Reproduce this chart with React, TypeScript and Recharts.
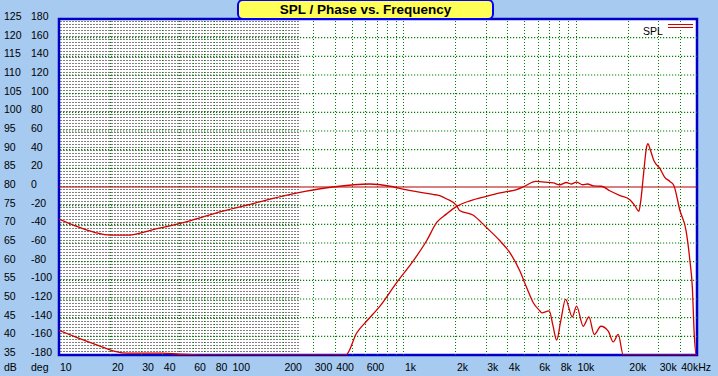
import React from 'react'
import {
  LineChart,
  Line,
  XAxis,
  YAxis,
  CartesianGrid,
  ReferenceLine,
  ReferenceArea
} from 'recharts'

// woofer SPL (dB)
const wooferFreq = [
  10, 12.4, 16.2, 19.8, 24.7, 36, 56, 88, 137, 213, 267, 387, 635, 830, 1040, 1470, 1610, 1770, 2020,
  2100, 2510, 3000, 3600, 4100, 4700, 5150, 5620, 6140, 6290, 6950, 7300, 7680, 8100, 8650, 9460,
  10020, 10950, 11810, 12680, 13870, 15290, 16340, 17470, 18680, 50000
]
const wooferDb = [
  71.4, 69.6, 67.8, 67.1, 67.1, 68.7, 70.8, 73.5, 75.7, 77.9, 78.8, 80.0, 80.8, 80.2, 79.2, 78.0, 77.7, 76.8, 75.0,
  73.7, 72.5, 69.2, 65.6, 62.5, 57.5, 53.0, 49.0, 46.8, 46.3, 46.8, 43.0, 39.0, 44.0, 49.9, 45.2,
  48.1, 42.7, 45.2, 40.5, 42.7, 41.4, 38.5, 40.5, 35.0, 35.0
]

// tweeter SPL (dB)
const tweeterFreq = [
  10, 13.2, 17.3, 21.1, 25, 40, 50, 70, 460, 532, 608, 726, 907, 1132, 1353, 1549, 1767, 2022, 2415,
  3000, 3600, 4000, 4500, 5000, 5800, 6600, 7350, 8000, 8760, 9300, 10000, 10900, 11600, 12500, 14000,
  15600, 17900, 20400, 21800, 23000, 23600, 24500, 25500, 26000, 26700, 28100, 30500, 32500, 34800,
  36700, 39800, 43200, 45500, 47000, 48200, 49500, 50000
]
const tweeterDb = [
  41.6, 39.4, 37.4, 36.0, 35.5, 35.5, 35.2, 35.0, 35.0, 40.9, 44.1, 48.1, 54.4, 60.2, 65.6, 70.5, 72.8, 74.8, 76.3,
  77.5, 78.4, 78.8, 79.3, 80.2, 81.5, 81.3, 81.1, 80.6, 81.2, 80.8, 81.3, 80.6, 80.8, 80.3, 80.2,
  79.0, 77.7, 76.6, 75.0, 73.5, 76.3, 83.5, 90.7, 91.6, 90.2, 87.1, 84.9, 82.6, 81.5,
  80.4, 73.7, 68.3, 60.2, 53.0, 40.5, 35.0, 35.0
]

// phase (deg) - flat
const phaseFreq = [10, 50000]
const phaseDeg = [0, 0]

const dbTicks = [35, 40, 45, 50, 55, 60, 65, 70, 75, 80, 85, 90, 95, 100, 105, 110, 115, 120, 125]
const degTicks = [-180, -160, -140, -120, -100, -80, -60, -40, -20, 0, 20, 40, 60, 80, 100, 120, 140, 160, 180]

const freqTicks = [10, 20, 30, 40, 60, 80, 100, 200, 300, 400, 600, 1000, 2000, 3000, 4000, 6000, 8000, 10000, 20000, 30000, 40000]
const freqLabels = ['10', '20', '30', '40', '60', '80', '100', '200', '300', '400', '600', '1k', '2k', '3k', '4k', '6k', '8k', '10k', '20k', '30k', '40kHz']

const gridFreqs = [
  20, 30, 40, 50, 60, 70, 80, 90,
  100, 200, 300, 400, 500, 600, 700, 800, 900,
  1000, 2000, 3000, 4000, 5000, 6000, 7000, 8000, 9000,
  10000, 20000, 30000, 40000
]
const gridDb = [40, 45, 50, 55, 60, 65, 70, 75, 85, 90, 95, 100, 105, 110, 115, 120]

const wooferData = wooferFreq.map((f, i) => ({ f, db: wooferDb[i] }))
const tweeterData = tweeterFreq.map((f, i) => ({ f, db: tweeterDb[i] }))
const phaseData = phaseFreq.map((f, i) => ({ f, deg: phaseDeg[i] }))
const gridRows = gridDb.map(v => phaseFreq.map(f => ({ f, db: v })))

const FONT = '"Liberation Sans", Arial, sans-serif'
const RED = '#D00000'
const GREEN = '#008000'

const YTick = (props: any) => {
  const { y, payload, index } = props
  return (
    <g>
      <text x={4} y={y + 1} fontSize={10.5} fontFamily={FONT} fill="#000">{payload.value}</text>
      <text x={31} y={y + 1} fontSize={10.5} fontFamily={FONT} fill="#000">{degTicks[index]}</text>
    </g>
  )
}

const XTick = (props: any) => {
  const { x, payload, index } = props
  return (
    <text x={x + 1} y={371} fontSize={10.5} fontFamily={FONT} fill="#000">
      {freqLabels[index] ?? payload.value}
    </text>
  )
}

export default function App() {
  return (
    <div style={{ position: 'absolute', left: 0, top: 0, width: 718, height: 376, background: '#A6CAF0', overflow: 'hidden' }}>
      <svg width={0} height={0} style={{ position: 'absolute' }}>
        <defs>
          <pattern id="grayPat" width={3} height={3} patternUnits="userSpaceOnUse">
            <rect x={0} y={0} width={2} height={1} fill="#808080" />
          </pattern>
          <pattern id="hDot" width={3} height={1} patternUnits="userSpaceOnUse">
            <rect x={0} y={0} width={1.2} height={1} fill={GREEN} />
          </pattern>
        </defs>
      </svg>
      <LineChart width={718} height={376} margin={{ top: 19, right: 21, left: 0, bottom: 0 }}>
        <CartesianGrid yAxisId="db" vertical={false} horizontal={false} fill="#FFFFFF" fillOpacity={1} />
        <XAxis
          type="number"
          dataKey="f"
          scale="log"
          domain={[10, 50000]}
          ticks={freqTicks}
          allowDataOverflow
          axisLine={false}
          tickLine={false}
          height={21}
          tick={<XTick />}
          interval={0}
        />
        <YAxis
          yAxisId="db"
          type="number"
          domain={[35, 125]}
          ticks={dbTicks}
          allowDataOverflow
          axisLine={false}
          tickLine={false}
          width={59}
          tick={<YTick />}
          interval={0}
        />
        <YAxis yAxisId="deg" type="number" domain={[-180, 180]} hide />
        {gridFreqs.map(f => (
          <ReferenceLine key={'v' + f} yAxisId="db" x={f} stroke={GREEN} strokeDasharray="1 2" shapeRendering="crispEdges" />
        ))}
        {gridRows.map((row, i) => (
          <Line
            key={'h' + i}
            yAxisId="db"
            data={row}
            dataKey="db"
            type="linear"
            stroke="url(#hDot)"
            strokeWidth={1.2}
            dot={false}
            activeDot={false}
            isAnimationActive={false}
          />
        ))}
        <ReferenceArea yAxisId="db" x1={10} x2={250} y1={35} y2={125} fill="url(#grayPat)" fillOpacity={1} stroke="none" />
        <Line
          yAxisId="deg"
          data={phaseData}
          dataKey="deg"
          type="linear"
          stroke="#B40000"
          strokeWidth={1.2}
          dot={false}
          isAnimationActive={false}
        />
        <Line
          yAxisId="db"
          data={wooferData}
          dataKey="db"
          type="monotone"
          stroke={RED}
          strokeWidth={1.3}
          dot={false}
          isAnimationActive={false}
        />
        <Line
          yAxisId="db"
          data={tweeterData}
          dataKey="db"
          type="monotone"
          stroke={RED}
          strokeWidth={1.3}
          dot={false}
          isAnimationActive={false}
        />
        <ReferenceArea yAxisId="db" x1={10} x2={50000} y1={35} y2={125} fill="none" stroke="#0000C8" strokeWidth={2.5} />
      </LineChart>

      {/* title */}
      <div
        style={{
          position: 'absolute',
          left: 237,
          top: -1,
          width: 257,
          height: 21,
          boxSizing: 'border-box',
          background: '#FFFF55',
          border: '2px solid #0000FF',
          borderRadius: 6,
          textAlign: 'center',
          fontFamily: FONT,
          fontWeight: 'bold',
          fontSize: 13.5,
          lineHeight: '18px',
          color: '#000'
        }}
      >
        SPL / Phase vs. Frequency
      </div>

      {/* legend */}
      <div style={{ position: 'absolute', left: 643, top: 25, fontFamily: FONT, fontSize: 10.5, color: '#000' }}>SPL</div>
      <div style={{ position: 'absolute', left: 668, top: 24, width: 25, height: 1, background: RED }} />
      <div style={{ position: 'absolute', left: 668, top: 27, width: 25, height: 1, background: RED }} />

      {/* axis units */}
      <div style={{ position: 'absolute', left: 4, top: 361, fontFamily: FONT, fontSize: 10.5, color: '#000' }}>dB</div>
      <div style={{ position: 'absolute', left: 31, top: 361, fontFamily: FONT, fontSize: 10.5, color: '#000' }}>deg</div>
    </div>
  )
}
